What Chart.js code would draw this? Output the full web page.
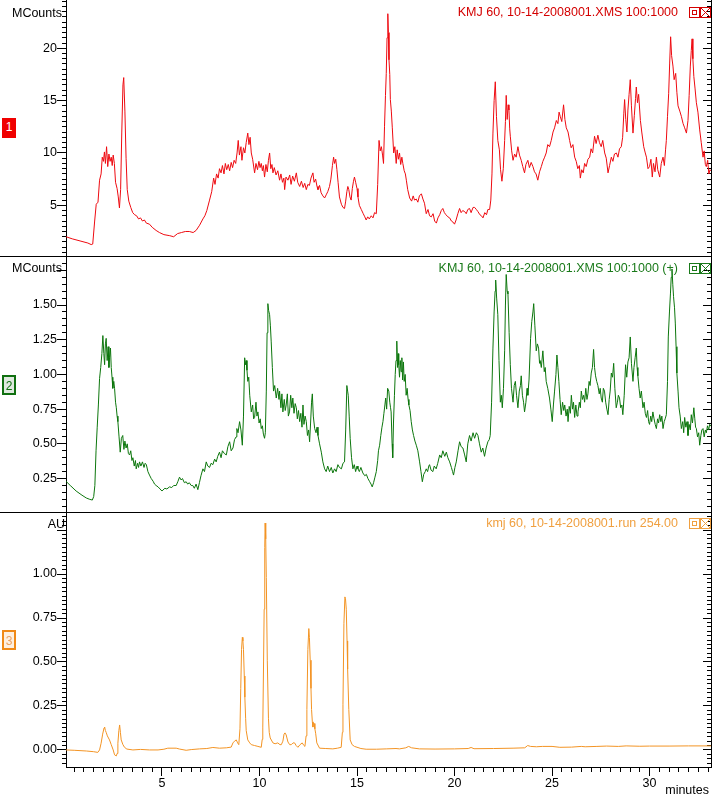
<!DOCTYPE html>
<html>
<head>
<meta charset="utf-8">
<script src="https://cdn.jsdelivr.net/npm/chart.js@4.4.1/dist/chart.umd.min.js"></script>
<style>
  html, body { margin: 0; padding: 0; background: #fff; overflow: hidden; }
  #page { position: relative; width: 712px; height: 799px; overflow: hidden;
          font-family: "Liberation Sans", Arial, sans-serif; font-size: 12.5px; }
  canvas { position: absolute; left: 0; }
  .sep { position: absolute; left: 0; width: 712px; height: 1px; background: #000; }
  .unit { position: absolute; left: 0; text-align: right; line-height: 14px; color: #000; }
  .title { position: absolute; right: 34px; line-height: 14px; white-space: nowrap; }
  .icons { position: absolute; left: 689px; }
  .badge { position: absolute; left: 2px; width: 14px; height: 20px; box-sizing: border-box;
           text-align: center; line-height: 18px; font-size: 12px; }
</style>
</head>
<body>
<div id="page">
  <canvas id="c1" width="712" height="256" style="top:0"></canvas>
  <canvas id="c2" width="712" height="255" style="top:257px"></canvas>
  <canvas id="c3" width="712" height="286" style="top:513px"></canvas>

  <div class="sep" style="top:256px"></div>
  <div class="sep" style="top:512px"></div>

  <div class="unit" style="top:6px;width:62px">MCounts</div>
  <div class="unit" style="top:261px;width:62px">MCounts</div>
  <div class="unit" style="top:517px;width:65px">AU</div>

  <div class="title" style="top:5px;color:#d40000">KMJ 60, 10-14-2008001.XMS 100:1000</div>
  <div class="title" style="top:261px;color:#1a7a1a">KMJ 60, 10-14-2008001.XMS 100:1000 (+)</div>
  <div class="title" style="top:516px;color:#f0a040">kmj 60, 10-14-2008001.run 254.00</div>

  <svg class="icons" style="top:7px" width="23" height="11" fill="none" stroke="#d40000">
    <rect x="0.5" y="0.5" width="10" height="10"/><rect x="3.5" y="3.5" width="4" height="4"/>
    <rect x="11.5" y="0.5" width="10" height="10"/><path d="M11.5 0.5L21.5 10.5M21.5 0.5L11.5 10.5"/>
  </svg>
  <svg class="icons" style="top:263px" width="23" height="11" fill="none" stroke="#1a7a1a">
    <rect x="0.5" y="0.5" width="10" height="10"/><rect x="3.5" y="3.5" width="4" height="4"/>
    <rect x="11.5" y="0.5" width="10" height="10"/><path d="M11.5 0.5L21.5 10.5M21.5 0.5L11.5 10.5"/>
  </svg>
  <svg class="icons" style="top:518px" width="23" height="11" fill="none" stroke="#f0a040">
    <rect x="0.5" y="0.5" width="10" height="10"/><rect x="3.5" y="3.5" width="4" height="4"/>
    <rect x="11.5" y="0.5" width="10" height="10"/><path d="M11.5 0.5L21.5 10.5M21.5 0.5L11.5 10.5"/>
  </svg>

  <div class="badge" style="top:118px;background:#f00000;color:#fff">1</div>
  <div class="badge" style="top:375px;border:2px solid #107010;background:#dfe9df;color:#107010">2</div>
  <div class="badge" style="top:630px;border:2px solid #f08a18;background:#fdf0e2;color:#e9a060">3</div>

  <div style="position:absolute;right:3px;top:783px;line-height:14px">minutes</div>
</div>

<script>
// time axis (minutes)
const X_MIN = 0.08;
const X_MAX = 33.15;

// trace 1: MS TIC, MCounts
const redTime = [
  0.08, 0.4, 0.8, 1.2, 1.37, 1.45, 1.55, 1.63, 1.72, 1.8,
  1.88, 1.94, 2.0, 2.05, 2.1, 2.16, 2.22, 2.28, 2.34, 2.4,
  2.45, 2.5, 2.56, 2.62, 2.7, 2.76, 2.82, 2.88, 2.94, 3.0,
  3.04, 3.1, 3.16, 3.22, 3.3, 3.4, 3.5, 3.6, 3.7, 3.8,
  3.9, 4.0, 4.1, 4.2, 4.36, 4.5, 4.7, 4.87, 5.1, 5.4,
  5.6, 5.8, 6.0, 6.2, 6.4, 6.6, 6.75, 6.93, 7.1, 7.2,
  7.3, 7.44, 7.55, 7.65, 7.72, 7.8, 7.88, 7.95, 8.03, 8.1,
  8.18, 8.25, 8.32, 8.4, 8.47, 8.55, 8.62, 8.7, 8.78, 8.85,
  8.91, 8.97, 9.05, 9.1, 9.18, 9.25, 9.32, 9.4, 9.46, 9.52,
  9.58, 9.65, 9.75, 9.82, 9.9, 9.97, 10.03, 10.09, 10.15, 10.2,
  10.26, 10.33, 10.4, 10.46, 10.52, 10.58, 10.64, 10.69, 10.76, 10.85,
  10.94, 11.03, 11.1, 11.18, 11.25, 11.29, 11.36, 11.46, 11.55, 11.62,
  11.7, 11.79, 11.89, 11.96, 12.06, 12.15, 12.24, 12.32, 12.4, 12.48,
  12.56, 12.64, 12.74, 12.8, 12.88, 12.95, 13.0, 13.08, 13.16, 13.25,
  13.34, 13.42, 13.5, 13.59, 13.66, 13.74, 13.8, 13.85, 13.91, 13.97,
  14.03, 14.1, 14.2, 14.28, 14.36, 14.42, 14.48, 14.53, 14.58, 14.64,
  14.7, 14.76, 14.82, 14.87, 14.93, 15.0, 15.05, 15.12, 15.22, 15.32,
  15.4, 15.47, 15.55, 15.63, 15.73, 15.82, 15.9, 15.99, 16.06, 16.13,
  16.19, 16.25, 16.31, 16.36, 16.41, 16.46, 16.5, 16.54, 16.58, 16.61,
  16.64, 16.68, 16.71, 16.76, 16.81, 16.88, 16.94, 17.01, 17.06, 17.12,
  17.18, 17.24, 17.3, 17.35, 17.42, 17.48, 17.53, 17.6, 17.7, 17.8,
  17.88, 17.95, 18.04, 18.12, 18.2, 18.3, 18.38, 18.46, 18.55, 18.64,
  18.72, 18.81, 18.9, 18.98, 19.07, 19.15, 19.24, 19.32, 19.4, 19.48,
  19.56, 19.66, 19.75, 19.84, 19.92, 20.0, 20.08, 20.17, 20.26, 20.34,
  20.42, 20.52, 20.6, 20.68, 20.77, 20.85, 20.95, 21.03, 21.12, 21.2,
  21.3, 21.38, 21.46, 21.55, 21.64, 21.71, 21.8, 21.86, 21.92, 21.97,
  22.03, 22.09, 22.15, 22.22, 22.3, 22.36, 22.43, 22.5, 22.57, 22.61,
  22.65, 22.7, 22.75, 22.79, 22.83, 22.86, 22.93, 23.0, 23.08, 23.16,
  23.25, 23.33, 23.42, 23.5, 23.59, 23.66, 23.76, 23.84, 23.93, 24.02,
  24.1, 24.18, 24.27, 24.36, 24.45, 24.53, 24.62, 24.7, 24.78, 24.87,
  24.96, 25.05, 25.13, 25.22, 25.3, 25.36, 25.42, 25.5, 25.59, 25.66,
  25.73, 25.82, 25.9, 25.98, 26.07, 26.16, 26.24, 26.32, 26.4, 26.45,
  26.52, 26.6, 26.67, 26.75, 26.84, 26.93, 27.0, 27.08, 27.18, 27.26,
  27.35, 27.43, 27.52, 27.6, 27.7, 27.78, 27.87, 27.95, 28.04, 28.12,
  28.2, 28.3, 28.38, 28.46, 28.55, 28.62, 28.68, 28.72, 28.78, 28.84,
  28.89, 28.95, 29.01, 29.07, 29.15, 29.22, 29.28, 29.32, 29.38, 29.44,
  29.53, 29.6, 29.7, 29.78, 29.84, 29.92, 30.0, 30.07, 30.14, 30.2,
  30.28, 30.35, 30.42, 30.52, 30.6, 30.69, 30.76, 30.82, 30.86, 30.92,
  30.98, 31.03, 31.08, 31.13, 31.2, 31.26, 31.34, 31.4, 31.46, 31.55,
  31.63, 31.72, 31.8, 31.89, 31.97, 32.03, 32.09, 32.14, 32.18, 32.22,
  32.27, 32.33, 32.4, 32.48, 32.57, 32.65, 32.74, 32.8, 32.86, 32.91,
  32.98, 33.04, 33.1, 33.2
];
const redCounts = [
  2.0, 1.8, 1.6, 1.4, 1.25, 1.3, 3.5, 5.1, 5.3, 7.4,
  8.0, 9.6, 9.2, 10.1, 9.0, 10.6, 8.7, 9.9, 9.2, 9.6,
  8.8, 9.8, 9.0, 7.2, 6.6, 5.8, 4.75, 6.5, 12.0, 16.5,
  17.2, 14.0, 9.5, 6.5, 5.4, 4.8, 4.3, 4.1, 4.0, 3.7,
  3.8, 3.5, 3.6, 3.3, 3.2, 2.9, 2.6, 2.4, 2.2, 2.1,
  2.0, 2.3, 2.4, 2.5, 2.5, 2.4, 2.6, 3.1, 3.7, 4.0,
  4.5, 5.5, 6.3, 7.6, 7.0, 8.0, 7.6, 8.5, 8.1, 8.8,
  8.0, 9.0, 8.4, 8.9, 8.3, 9.1, 8.6, 9.3, 9.0, 10.0,
  11.2, 9.8, 10.6, 9.3, 10.5, 10.0, 11.0, 11.9, 10.8, 11.5,
  10.0, 9.4, 8.1, 9.0, 8.4, 9.2, 8.6, 9.0, 8.3, 8.8,
  7.7, 8.9, 8.2, 9.3, 10.0, 8.5, 8.9, 8.1, 8.6, 7.9,
  8.3, 7.4, 8.0, 7.2, 7.6, 6.5, 7.7, 7.4, 7.9, 7.0,
  7.8, 7.3, 8.1, 7.2, 6.8, 7.3, 6.7, 7.1, 6.5, 7.0,
  6.9, 7.6, 8.1, 7.2, 7.5, 6.8, 6.5, 6.9, 6.2, 5.9,
  5.7, 6.0, 6.3, 6.8, 7.5, 8.8, 9.6, 9.0, 9.4, 8.4,
  7.2, 5.8, 5.1, 4.8, 4.7, 5.4, 6.3, 6.8, 6.5, 5.8,
  5.5, 6.6, 7.3, 7.7, 7.2, 6.6, 5.8, 5.0, 4.6, 4.2,
  3.9, 3.6, 3.9, 3.7, 4.0, 3.8, 4.3, 4.2, 7.0, 11.2,
  10.2, 10.6, 9.8, 9.0, 12.5, 15.5, 17.6, 21.0, 23.3, 21.5,
  18.9, 17.5, 15.1, 14.0, 12.4, 10.0, 10.6, 9.0, 10.3, 9.4,
  10.0, 8.9, 9.6, 9.0, 8.3, 8.0, 7.4, 6.5, 5.7, 5.4,
  5.9, 5.5, 5.6, 5.3, 5.9, 6.1, 5.6, 5.2, 4.2, 4.6,
  4.0, 3.9, 4.2, 3.5, 3.3, 3.8, 4.1, 4.5, 4.7, 4.3,
  4.1, 3.9, 3.8, 3.5, 3.4, 3.2, 3.6, 4.2, 4.7, 4.3,
  4.5, 4.4, 4.2, 4.6, 4.7, 4.3, 4.8, 4.8, 4.6, 4.4,
  4.1, 4.0, 3.8, 4.3, 4.1, 4.6, 4.6, 5.5, 8.0, 11.9,
  15.0, 16.8, 13.5, 11.2, 10.3, 8.4, 7.3, 8.5, 11.2, 13.0,
  15.5, 13.2, 14.6, 14.1, 12.3, 11.6, 10.2, 9.3, 9.9, 9.6,
  10.6, 9.8, 9.3, 8.7, 8.1, 8.9, 9.3, 8.6, 9.1, 8.7,
  8.2, 8.0, 7.4, 8.2, 8.7, 9.2, 9.6, 10.0, 10.8, 10.6,
  11.2, 12.0, 12.4, 13.1, 12.8, 13.9, 13.5, 13.0, 14.6, 13.2,
  12.4, 12.0, 11.2, 10.5, 10.8, 9.6, 9.2, 8.5, 8.8, 7.6,
  8.4, 8.1, 9.0, 8.7, 9.4, 9.6, 10.4, 10.0, 11.6, 10.9,
  11.7, 11.0, 10.6, 11.2, 10.0, 9.5, 8.1, 8.8, 9.6, 9.2,
  9.9, 10.0, 9.6, 10.4, 10.6, 11.5, 13.8, 15.1, 13.2, 12.0,
  14.1, 15.6, 17.0, 14.5, 11.9, 13.6, 15.2, 16.3, 14.8, 15.6,
  13.1, 12.0, 10.6, 10.0, 9.6, 8.5, 8.7, 9.4, 7.7, 9.0,
  8.2, 9.6, 8.4, 7.7, 9.0, 9.6, 8.8, 10.3, 11.2, 13.5,
  15.7, 18.5, 21.1, 19.3, 18.3, 17.0, 17.6, 15.8, 14.5, 14.0,
  13.5, 12.8, 12.4, 11.9, 13.1, 15.5, 18.3, 19.8, 20.9, 19.0,
  17.3, 16.2, 14.8, 13.9, 12.2, 11.0, 9.6, 10.2, 8.9, 8.7,
  9.3, 8.0, 8.4, 8.2
];

// trace 2: MS selected ion, MCounts
const greenTime = [
  0.08, 0.3, 0.6, 0.9, 1.12, 1.3, 1.43, 1.5, 1.56, 1.62,
  1.68, 1.74, 1.8, 1.86, 1.92, 1.97, 2.02, 2.06, 2.1, 2.14,
  2.19, 2.24, 2.28, 2.31, 2.36, 2.4, 2.44, 2.48, 2.53, 2.57,
  2.62, 2.66, 2.7, 2.74, 2.8, 2.86, 2.92, 2.99, 3.05, 3.1,
  3.16, 3.22, 3.28, 3.34, 3.4, 3.46, 3.51, 3.58, 3.64, 3.68,
  3.75, 3.8, 3.85, 3.92, 4.0, 4.08, 4.14, 4.2, 4.28, 4.36,
  4.45, 4.55, 4.62, 4.7, 4.8, 4.9, 5.0, 5.05, 5.15, 5.25,
  5.39, 5.5, 5.6, 5.73, 5.82, 5.9, 5.98, 6.05, 6.15, 6.24,
  6.32, 6.4, 6.5, 6.58, 6.66, 6.75, 6.84, 6.92, 7.0, 7.1,
  7.18, 7.27, 7.35, 7.44, 7.52, 7.61, 7.7, 7.78, 7.86, 7.95,
  8.03, 8.1, 8.2, 8.3, 8.38, 8.47, 8.55, 8.64, 8.72, 8.8,
  8.84, 8.9, 8.98, 9.05, 9.12, 9.18, 9.24, 9.28, 9.32, 9.36,
  9.4, 9.45, 9.5, 9.58, 9.65, 9.7, 9.75, 9.82, 9.87, 9.92,
  9.98, 10.04, 10.09, 10.15, 10.2, 10.26, 10.3, 10.35, 10.39, 10.43,
  10.47, 10.52, 10.56, 10.6, 10.66, 10.72, 10.78, 10.86, 10.93, 11.0,
  11.03, 11.1, 11.15, 11.2, 11.27, 11.32, 11.37, 11.43, 11.48, 11.54,
  11.6, 11.66, 11.71, 11.77, 11.83, 11.89, 11.94, 12.0, 12.06, 12.12,
  12.18, 12.23, 12.28, 12.34, 12.4, 12.46, 12.52, 12.57, 12.62, 12.67,
  12.71, 12.76, 12.83, 12.9, 12.95, 13.0, 13.08, 13.17, 13.25, 13.34,
  13.42, 13.5, 13.59, 13.68, 13.76, 13.85, 13.93, 14.02, 14.1, 14.2,
  14.28, 14.36, 14.42, 14.48, 14.52, 14.55, 14.6, 14.65, 14.72, 14.79,
  14.86, 14.93, 15.0, 15.05, 15.12, 15.2, 15.3, 15.4, 15.48, 15.56,
  15.64, 15.72, 15.78, 15.85, 15.92, 15.99, 16.06, 16.1, 16.16, 16.22,
  16.28, 16.33, 16.38, 16.43, 16.47, 16.52, 16.57, 16.63, 16.68, 16.72,
  16.75, 16.8, 16.83, 16.87, 16.92, 16.96, 17.0, 17.04, 17.08, 17.11,
  17.14, 17.18, 17.22, 17.26, 17.3, 17.34, 17.38, 17.42, 17.47, 17.52,
  17.57, 17.62, 17.66, 17.72, 17.78, 17.84, 17.9, 17.97, 18.04, 18.12,
  18.21, 18.28, 18.35, 18.42, 18.5, 18.55, 18.62, 18.68, 18.72, 18.8,
  18.89, 18.96, 19.06, 19.14, 19.24, 19.32, 19.4, 19.5, 19.58, 19.66,
  19.75, 19.84, 19.9, 19.95, 20.02, 20.09, 20.18, 20.26, 20.34, 20.43,
  20.52, 20.6, 20.68, 20.77, 20.85, 20.95, 21.03, 21.12, 21.2, 21.28,
  21.37, 21.45, 21.54, 21.62, 21.71, 21.78, 21.83, 21.9, 21.97, 22.03,
  22.08, 22.11, 22.16, 22.22, 22.28, 22.35, 22.4, 22.45, 22.51, 22.57,
  22.61, 22.65, 22.7, 22.74, 22.8, 22.86, 22.92, 23.0, 23.06, 23.12,
  23.18, 23.25, 23.32, 23.38, 23.42, 23.48, 23.54, 23.59, 23.66, 23.72,
  23.76, 23.82, 23.9, 23.96, 24.02, 24.06, 24.12, 24.19, 24.25, 24.31,
  24.36, 24.39, 24.45, 24.53, 24.6, 24.65, 24.7, 24.78, 24.87, 24.94,
  25.01, 25.07, 25.13, 25.2, 25.25, 25.3, 25.35, 25.41, 25.47, 25.54,
  25.6, 25.65, 25.72, 25.78, 25.82, 25.88, 25.94, 25.99, 26.05, 26.1,
  26.16, 26.22, 26.28, 26.33, 26.4, 26.45, 26.5, 26.56, 26.62, 26.67,
  26.73, 26.79, 26.84, 26.9, 26.95, 27.01, 27.07, 27.13, 27.18, 27.23,
  27.29, 27.35, 27.42, 27.47, 27.52, 27.58, 27.63, 27.69, 27.75, 27.81,
  27.87, 27.93, 27.98, 28.04, 28.1, 28.16, 28.22, 28.29, 28.35, 28.4,
  28.46, 28.52, 28.58, 28.63, 28.7, 28.77, 28.83, 28.89, 28.95, 29.01,
  29.07, 29.15, 29.2, 29.26, 29.32, 29.36, 29.4, 29.46, 29.52, 29.58,
  29.66, 29.72, 29.78, 29.84, 29.9, 29.95, 30.0, 30.06, 30.11, 30.17,
  30.23, 30.29, 30.35, 30.41, 30.46, 30.52, 30.58, 30.63, 30.69, 30.75,
  30.8, 30.86, 30.92, 30.96, 31.02, 31.07, 31.11, 31.15, 31.19, 31.23,
  31.28, 31.32, 31.36, 31.4, 31.46, 31.51, 31.57, 31.63, 31.7, 31.75,
  31.8, 31.86, 31.92, 31.97, 32.03, 32.09, 32.14, 32.2, 32.27, 32.32,
  32.36, 32.4, 32.46, 32.52, 32.57, 32.63, 32.68, 32.74, 32.8, 32.86,
  32.91, 32.97, 33.03, 33.08, 33.2
];
const greenCounts = [
  0.23, 0.2, 0.16, 0.13, 0.11, 0.1, 0.095, 0.12, 0.2, 0.45,
  0.62, 0.78, 0.97, 1.05, 1.15, 1.28, 1.15, 1.07, 1.22, 1.26,
  1.1, 1.2, 1.05, 1.12, 1.19, 1.05, 0.98, 0.9, 0.95, 0.9,
  0.8, 0.76, 0.7, 0.66, 0.55, 0.44, 0.54, 0.56, 0.46, 0.52,
  0.47, 0.5, 0.43, 0.42, 0.45, 0.38, 0.4, 0.34, 0.38, 0.32,
  0.36, 0.33, 0.37, 0.34, 0.37, 0.33, 0.36, 0.35, 0.3, 0.275,
  0.25, 0.23, 0.21, 0.2, 0.19, 0.175, 0.16, 0.167, 0.18, 0.175,
  0.19, 0.185, 0.2, 0.2, 0.23, 0.26, 0.24, 0.25, 0.22, 0.227,
  0.21, 0.22, 0.2, 0.2, 0.18, 0.21, 0.17, 0.22, 0.27, 0.32,
  0.3, 0.37, 0.34, 0.33, 0.36, 0.35, 0.39, 0.37, 0.41, 0.44,
  0.4, 0.45, 0.43, 0.42, 0.48, 0.515, 0.45, 0.47, 0.53, 0.55,
  0.61, 0.58, 0.66, 0.6, 0.49, 0.7, 1.12, 1.07, 1.1, 1.03,
  0.95, 0.98, 0.85, 0.73, 0.78, 0.68, 0.69, 0.8, 0.7, 0.73,
  0.65, 0.68, 0.61, 0.63, 0.57, 0.54, 0.58, 0.88, 1.3, 1.51,
  1.46, 1.43, 1.35, 1.24, 1.05, 0.88, 0.92, 0.83, 0.9, 0.82,
  0.88, 0.76, 0.86, 0.73, 0.82, 0.74, 0.78, 0.86, 0.7, 0.73,
  0.85, 0.76, 0.83, 0.72, 0.79, 0.76, 0.68, 0.74, 0.66, 0.72,
  0.62, 0.78, 0.64, 0.7, 0.66, 0.56, 0.6, 0.515, 0.65, 0.8,
  0.86, 0.7, 0.61, 0.58, 0.62, 0.56, 0.5, 0.44, 0.37, 0.32,
  0.3, 0.34, 0.3, 0.33, 0.29, 0.32, 0.3, 0.35, 0.33, 0.32,
  0.36, 0.37, 0.6, 0.92, 0.88, 0.85, 0.7, 0.54, 0.4, 0.32,
  0.35, 0.3, 0.34, 0.32, 0.3, 0.33, 0.29, 0.27, 0.28, 0.25,
  0.23, 0.21, 0.19, 0.22, 0.26, 0.3, 0.38, 0.45, 0.49, 0.56,
  0.62, 0.66, 0.72, 0.78, 0.83, 0.75, 0.9, 0.88, 0.8, 0.76,
  0.73, 0.5, 0.4, 0.65, 0.85, 1.0, 1.1, 1.24, 1.05, 1.15,
  1.07, 0.98, 1.1, 1.02, 1.12, 0.96, 1.09, 0.95, 1.0, 0.85,
  0.9, 0.82, 0.78, 0.74, 0.66, 0.6, 0.56, 0.52, 0.49, 0.45,
  0.37, 0.3, 0.227, 0.28, 0.3, 0.32, 0.3, 0.34, 0.35, 0.31,
  0.3, 0.34, 0.32, 0.36, 0.42, 0.4, 0.45, 0.41, 0.44, 0.4,
  0.37, 0.33, 0.3, 0.275, 0.33, 0.37, 0.45, 0.515, 0.48, 0.47,
  0.42, 0.37, 0.5, 0.56, 0.52, 0.58, 0.54, 0.58, 0.56, 0.5,
  0.44, 0.47, 0.41, 0.47, 0.515, 0.53, 0.56, 0.8, 1.19, 1.45,
  1.6, 1.68, 1.55, 1.43, 1.1, 0.8, 0.85, 0.76, 0.9, 1.17,
  1.5, 1.72, 1.6, 1.58, 1.3, 1.07, 0.9, 0.8, 0.92, 0.95,
  0.85, 0.76, 0.88, 0.92, 0.99, 0.85, 0.8, 0.73, 0.8, 0.9,
  0.85, 0.96, 1.26, 1.38, 1.45, 1.51, 1.35, 1.17, 1.22, 1.19,
  1.08, 1.1, 1.05, 1.17, 1.02, 1.05, 0.95, 0.9, 0.83, 0.75,
  0.66, 0.78, 0.88, 1.0, 1.14, 1.05, 0.95, 0.82, 0.71, 0.8,
  0.74, 0.78, 0.7, 0.75, 0.66, 0.77, 0.72, 0.85, 0.75, 0.8,
  0.69, 0.78, 0.7, 0.73, 0.8, 0.76, 0.88, 0.82, 0.85, 0.8,
  0.9, 0.82, 0.86, 0.95, 0.92, 1.01, 1.05, 1.18, 1.05, 0.99,
  0.95, 0.92, 0.86, 0.9, 0.83, 0.8, 0.9, 0.88, 0.8, 0.75,
  0.71, 0.82, 0.88, 1.01, 0.98, 1.08, 0.9, 0.76, 0.8, 0.85,
  0.83, 0.76, 0.78, 0.71, 0.85, 1.07, 0.98, 1.09, 1.12, 1.27,
  1.08, 0.95, 1.05, 1.12, 1.19, 1.05, 0.99, 0.9, 0.83, 0.88,
  0.76, 0.8, 0.72, 0.69, 0.74, 0.66, 0.64, 0.7, 0.66, 0.73,
  0.68, 0.64, 0.61, 0.68, 0.65, 0.71, 0.66, 0.7, 0.61, 0.66,
  0.68, 0.71, 0.95, 1.27, 1.45, 1.58, 1.7, 1.76, 1.65, 1.56,
  1.48, 1.37, 1.2, 1.01, 0.88, 0.76, 0.7, 0.61, 0.66, 0.58,
  0.69, 0.62, 0.66, 0.56, 0.64, 0.6, 0.71, 0.65, 0.76, 0.68,
  0.62, 0.61, 0.55, 0.58, 0.49, 0.56, 0.6, 0.61, 0.55, 0.6,
  0.58, 0.63, 0.6, 0.64, 0.62
];

// trace 3: UV 254 nm, AU
const orangeTime = [
  0.08, 0.5, 1.12, 1.5, 1.71, 1.8, 1.88, 1.96, 2.03, 2.06,
  2.1, 2.14, 2.2, 2.31, 2.4, 2.5, 2.57, 2.66, 2.7, 2.74,
  2.79, 2.83, 2.87, 2.91, 3.0, 3.08, 3.2, 3.51, 3.9, 4.36,
  4.8, 5.1, 5.3, 5.73, 5.9, 6.24, 6.5, 6.93, 7.3, 7.61,
  7.95, 8.3, 8.55, 8.64, 8.72, 8.81, 8.88, 8.94, 9.0, 9.04,
  9.08, 9.12, 9.15, 9.18, 9.22, 9.25, 9.29, 9.32, 9.4, 9.5,
  9.58, 9.75, 9.92, 10.09, 10.14, 10.17, 10.21, 10.24, 10.27, 10.29,
  10.32, 10.35, 10.4, 10.46, 10.5, 10.55, 10.69, 10.8, 10.94, 11.05,
  11.12, 11.2, 11.26, 11.31, 11.37, 11.46, 11.55, 11.63, 11.72, 11.8,
  11.88, 11.97, 12.08, 12.19, 12.28, 12.33, 12.39, 12.43, 12.48, 12.53,
  12.56, 12.6, 12.64, 12.67, 12.71, 12.74, 12.77, 12.8, 12.84, 12.88,
  12.94, 13.08, 13.4, 13.76, 14.0, 14.19, 14.25, 14.28, 14.33, 14.38,
  14.41, 14.45, 14.49, 14.52, 14.58, 14.65, 14.75, 14.87, 15.2, 15.47,
  16.0, 16.5, 17.0, 17.18, 17.5, 17.65, 17.8, 18.2, 19.0, 20.0,
  20.7, 20.85, 21.0, 22.0, 23.0, 23.6, 23.75, 23.9, 24.2, 24.5,
  25.0, 25.4, 26.0, 26.5, 26.7, 27.3, 27.8, 28.4, 28.8, 29.5,
  30.0, 31.0, 32.0, 33.2
];
const orangeAU = [
  0.0, -0.002, -0.006, -0.01, -0.014, 0.0, 0.038, 0.09, 0.125, 0.13,
  0.11, 0.1, 0.08, 0.057, 0.03, 0.0, -0.028, -0.034, -0.02, 0.038,
  0.11, 0.142, 0.1, 0.057, 0.03, 0.015, 0.005, 0.0, 0.003, 0.0,
  0.0, 0.004, 0.01, 0.01, 0.005, -0.002, 0.002, 0.006, 0.008, 0.014,
  0.01, 0.012, 0.016, 0.04, 0.05, 0.057, 0.04, 0.03, 0.12, 0.35,
  0.57, 0.64, 0.62, 0.57, 0.42, 0.3, 0.18, 0.11, 0.057, 0.04,
  0.03, 0.025, 0.02, 0.015, 0.06, 0.13, 0.5, 0.8, 1.15, 1.29,
  1.2, 0.98, 0.51, 0.18, 0.1, 0.068, 0.04, 0.035, 0.04, 0.03,
  0.03, 0.05, 0.09, 0.097, 0.085, 0.045, 0.03, 0.03, 0.04, 0.04,
  0.025, 0.015, 0.03, 0.04, 0.025, 0.02, 0.08, 0.23, 0.57, 0.69,
  0.64, 0.51, 0.35, 0.23, 0.16, 0.13, 0.155, 0.15, 0.12, 0.095,
  0.04, 0.01, 0.008, 0.006, 0.01, 0.015, 0.1, 0.26, 0.72, 0.87,
  0.86, 0.8, 0.62, 0.46, 0.23, 0.057, 0.03, 0.02, 0.008, 0.004,
  0.004, 0.006, 0.008, 0.006, 0.012, 0.02, 0.012, 0.006, 0.005, 0.006,
  0.008, 0.014, 0.007, 0.008, 0.01, 0.012, 0.025, 0.02, 0.018, 0.02,
  0.02, 0.015, 0.016, 0.02, 0.018, 0.02, 0.022, 0.02, 0.023, 0.021,
  0.022, 0.022, 0.023, 0.023
];

Chart.defaults.font.family = '"Liberation Sans", Arial, sans-serif';
Chart.defaults.font.size = 12.5;
Chart.defaults.color = '#000';

function toPoints(times, vals) {
  return times.map((t, i) => ({ x: t, y: vals[i] }));
}

function tickAxis(pos, min, max, step, len, showBorder) {
  return {
    axis: 'y', type: 'linear', position: pos, min: min, max: max,
    ticks: { display: false, stepSize: step, includeBounds: false, autoSkip: false },
    grid: { drawOnChartArea: false, tickLength: len, color: '#000', tickColor: '#000' },
    border: { display: showBorder, color: '#000' }
  };
}

function makePanel(id, p) {
  const scales = {
    x: {
      type: 'linear', position: 'bottom', min: X_MIN, max: X_MAX, display: p.showX,
      afterFit: s => { if (p.showX) { s.height = 32; } s.paddingLeft = 0; s.paddingRight = 0; },
      ticks: { stepSize: 5, includeBounds: false, autoSkip: false, maxRotation: 0, padding: 0, color: '#000' },
      grid: { drawOnChartArea: false, tickLength: 9, color: '#000', tickColor: '#000' },
      border: { color: '#000' }
    },
    xMinor: {
      axis: 'x', type: 'linear', position: { y: p.min }, min: X_MIN, max: X_MAX, display: p.showX,
      ticks: { display: false, stepSize: 0.5, includeBounds: false, autoSkip: false },
      grid: { drawOnChartArea: false, tickLength: 5, color: '#000', tickColor: '#000' },
      border: { display: false }
    },
    y: {
      type: 'linear', position: 'left', min: p.min, max: p.max,
      afterFit: s => { s.width = 66; s.paddingTop = 0; s.paddingBottom = 0; },
      ticks: {
        stepSize: p.major, includeBounds: false, autoSkip: false, padding: 0, color: '#000',
        callback: v => (v > p.labelMax + 1e-9 ? '' : v.toFixed(p.decimals))
      },
      grid: { drawOnChartArea: false, tickLength: 9, color: '#000', tickColor: '#000' },
      border: { color: '#000' }
    },
    yMinor: tickAxis({ x: X_MIN }, p.min, p.max, p.minor, 4, false),
    yRight: tickAxis({ x: X_MAX }, p.min, p.max, p.major, 8, true),
    yRightMinor: tickAxis({ x: X_MAX }, p.min, p.max, p.minor, 4, false)
  };

  return new Chart(document.getElementById(id), {
    type: 'line',
    data: {
      datasets: [{
        data: toPoints(p.times, p.values),
        borderColor: p.color,
        borderWidth: 1,
        pointRadius: 0,
        tension: 0,
        fill: false,
        xAxisID: 'x',
        yAxisID: 'y'
      }]
    },
    options: {
      responsive: false,
      animation: false,
      devicePixelRatio: 1,
      parsing: false,
      normalized: true,
      layout: { padding: { left: 0, right: 1, top: 0, bottom: 0 }, autoPadding: false },
      plugins: { legend: { display: false }, tooltip: { enabled: false } },
      scales: scales
    }
  });
}

makePanel('c1', {
  times: redTime, values: redCounts, color: '#ee0a10',
  min: 0.16, max: 24.61, major: 5, minor: 0.5, labelMax: 20, decimals: 0, showX: false
});
makePanel('c2', {
  times: greenTime, values: greenCounts, color: '#0c760c',
  min: 0.009, max: 1.846, major: 0.25, minor: 0.05, labelMax: 1.5, decimals: 2, showX: false
});
makePanel('c3', {
  times: orangeTime, values: orangeAU, color: '#f39424',
  min: -0.097, max: 1.347, major: 0.25, minor: 0.025, labelMax: 1.0, decimals: 2, showX: true
});
</script>
</body>
</html>
